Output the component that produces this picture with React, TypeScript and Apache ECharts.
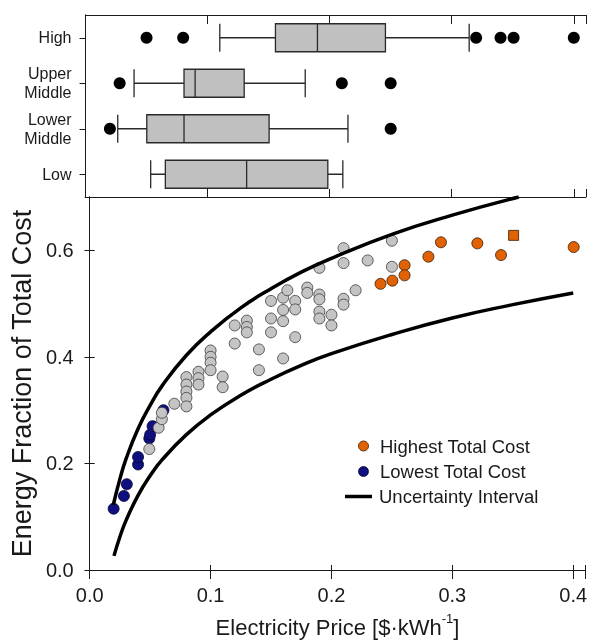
import React, { useEffect, useRef } from "react";
import * as echarts from "echarts";

const FONT = "Liberation Sans, Arial, Helvetica, sans-serif";
const INK = "#1a1a1a";

// Top panel: box plots by income category
const categories = ["Low", "Lower\nMiddle", "Upper\nMiddle", "High"];
// [min whisker, Q1, median, Q3, max whisker]
const boxLow = [0.0534, 0.0654, 0.132, 0.1985, 0.2108];
const boxLowerMiddle = [0.0264, 0.0502, 0.0807, 0.1504, 0.215];
const boxUpperMiddle = [0.0398, 0.0807, 0.0898, 0.13, 0.18];
const boxHigh = [0.11, 0.1556, 0.19, 0.2457, 0.3143];
const outliersLowerMiddle = [0.02, 0.25];
const outliersUpperMiddle = [0.028, 0.21, 0.25];
const outliersHigh = [0.05, 0.08, 0.32, 0.34, 0.3507, 0.4];

// Bottom panel: energy fraction vs. electricity price
const grayX = [0.0493, 0.057, 0.0597, 0.0597, 0.07, 0.08, 0.08, 0.08, 0.08, 0.08, 0.09, 0.09, 0.09, 0.1, 0.1, 0.1, 0.1, 0.11, 0.11, 0.12, 0.12, 0.13, 0.13, 0.13, 0.14, 0.14, 0.15, 0.15, 0.15, 0.16, 0.16, 0.16, 0.16, 0.1635, 0.17, 0.17, 0.17, 0.18, 0.18, 0.19, 0.19, 0.19, 0.19, 0.19, 0.2, 0.2, 0.21, 0.21, 0.21, 0.21, 0.22, 0.23, 0.25, 0.25];
const grayY = [0.227, 0.267, 0.283, 0.295, 0.312, 0.362, 0.348, 0.335, 0.323, 0.307, 0.372, 0.36, 0.348, 0.412, 0.4, 0.389, 0.375, 0.363, 0.343, 0.459, 0.425, 0.468, 0.456, 0.446, 0.414, 0.375, 0.505, 0.472, 0.446, 0.511, 0.488, 0.467, 0.397, 0.525, 0.505, 0.489, 0.437, 0.53, 0.52, 0.567, 0.517, 0.508, 0.485, 0.472, 0.479, 0.459, 0.604, 0.576, 0.509, 0.498, 0.525, 0.581, 0.618, 0.569];
const blueX = [0.0198, 0.0283, 0.0307, 0.04, 0.04, 0.0493, 0.05, 0.052, 0.061];
const blueY = [0.115, 0.139, 0.161, 0.198, 0.212, 0.247, 0.254, 0.27, 0.3];
const orangeX = [0.2406, 0.2504, 0.2605, 0.2605, 0.2802, 0.2906, 0.3207, 0.3403, 0.3507, 0.4004];
const orangeY = [0.537, 0.543, 0.572, 0.553, 0.588, 0.615, 0.613, 0.591, 0.628, 0.606];
const orangeSymbols = ["circle", "circle", "circle", "circle", "circle", "circle", "circle", "circle", "rect", "circle"];

// Uncertainty interval curves
const upperX = [0.0195, 0.025, 0.03, 0.04, 0.05, 0.06, 0.08, 0.1, 0.125, 0.15, 0.175, 0.2, 0.25, 0.3, 0.355];
const upperY = [0.122, 0.171, 0.208, 0.265, 0.309, 0.346, 0.403, 0.447, 0.492, 0.528, 0.559, 0.585, 0.63, 0.666, 0.7];
const lowerX = [0.0201, 0.025, 0.03, 0.04, 0.05, 0.06, 0.08, 0.1, 0.125, 0.15, 0.175, 0.2, 0.25, 0.3, 0.35, 0.4];
const lowerY = [0.0265, 0.0625, 0.0926, 0.14, 0.177, 0.207, 0.254, 0.291, 0.328, 0.358, 0.384, 0.406, 0.442, 0.473, 0.498, 0.52];

const legendLabels = ["Highest Total Cost", "Lowest Total Cost", "Uncertainty Interval"];

const ORANGE = "#e06205";
const NAVY = "#0f0f80";
const GRAY = "#c4c4c4";

const zip = (xs: number[], ys: number[]) => xs.map((x, i) => [x, ys[i]]);

export default function App() {
  const ref = useRef<HTMLDivElement>(null);
  useEffect(() => {
    if (!ref.current) return;
    const chart = echarts.init(ref.current, null, { renderer: "svg" });
    const axisLine = { show: true, lineStyle: { color: INK, width: 1 } };
    const noLabel = { show: false };
    const xBase = { type: "value", min: 0, max: 0.41, interval: 0.1, splitLine: { show: false } };
    const yBase = { type: "value", min: 0, max: 0.7, interval: 0.2, splitLine: { show: false }, gridIndex: 1 };
    const tick = (len: number, inside: boolean) => ({ show: true, length: len, inside, lineStyle: { color: INK, width: 1 } });

    const outlierData: number[][] = [];
    outliersLowerMiddle.forEach((v) => outlierData.push([v, 1]));
    outliersUpperMiddle.forEach((v) => outlierData.push([v, 2]));
    outliersHigh.forEach((v) => outlierData.push([v, 3]));

    chart.setOption({
      animation: false,
      textStyle: { fontFamily: FONT },
      grid: [
        { left: 85.5, right: 4, top: 15, height: 182 },
        { left: 85.5, right: 4, top: 197, height: 379 },
      ],
      xAxis: [
        { ...xBase, gridIndex: 0, position: "bottom", axisLine, axisTick: tick(8, true), axisLabel: noLabel },
        { ...xBase, gridIndex: 0, position: "top", axisLine, axisTick: tick(9, true), axisLabel: noLabel },
        {
          ...xBase, gridIndex: 1, position: "bottom", axisLine, axisTick: tick(5, false),
          axisLabel: { show: true, fontSize: 20, color: INK, margin: 15, showMaxLabel: false, formatter: (v: number) => v.toFixed(1) },
          name: "{a|Electricity Price [$·kWh}{s|-1}{a|]}",
          nameLocation: "middle",
          nameGap: 42,
          nameTextStyle: {
            rich: {
              a: { fontSize: 22, fontFamily: FONT, color: INK, lineHeight: 26, verticalAlign: "bottom" },
              s: { fontSize: 13, fontFamily: FONT, color: INK, lineHeight: 16, verticalAlign: "top" },
            },
          },
        },
        { ...xBase, gridIndex: 1, position: "bottom", axisLine: { show: false }, axisTick: tick(5, true), axisLabel: noLabel },
        { ...xBase, gridIndex: 1, position: "top", axisLine, axisTick: tick(9, true), axisLabel: noLabel },
      ],
      yAxis: [
        {
          type: "category", gridIndex: 0, data: categories, position: "left", axisLine,
          axisTick: { show: true, length: 6, inside: false, alignWithLabel: true, lineStyle: { color: INK } },
          axisLabel: { fontSize: 16, lineHeight: 19, color: INK, margin: 14, align: "right" },
        },
        { type: "category", gridIndex: 0, data: categories, position: "right", axisLine, axisTick: { show: false }, axisLabel: noLabel },
        {
          ...yBase, position: "left", axisLine, axisTick: tick(5, false),
          axisLabel: { show: true, fontSize: 20, color: INK, margin: 16, showMaxLabel: false, formatter: (v: number) => v.toFixed(1) },
          name: "Energy Fraction of Total Cost",
          nameLocation: "middle",
          nameGap: 51,
          nameTextStyle: { fontSize: 27, color: INK, fontFamily: FONT },
        },
        { ...yBase, position: "left", axisLine: { show: false }, axisTick: tick(5, true), axisLabel: noLabel },
        { ...yBase, position: "right", axisLine, axisTick: tick(5, true), axisLabel: noLabel },
      ],
      series: [
        {
          type: "boxplot",
          xAxisIndex: 0,
          yAxisIndex: 0,
          boxWidth: [28, 28],
          itemStyle: { color: "#c0c0c0", borderColor: "#2a2a2a", borderWidth: 1.3 },
          data: [boxLow, boxLowerMiddle, boxUpperMiddle, boxHigh],
        },
        {
          type: "scatter",
          xAxisIndex: 0,
          yAxisIndex: 0,
          symbolSize: 12,
          itemStyle: { color: "#000", opacity: 1 },
          data: outlierData,
        },
        {
          type: "scatter",
          xAxisIndex: 2,
          yAxisIndex: 2,
          symbolSize: 11,
          itemStyle: { color: NAVY, borderColor: "#050530", borderWidth: 0.8, opacity: 1 },
          data: zip(blueX, blueY),
          z: 3,
        },
        {
          type: "scatter",
          xAxisIndex: 2,
          yAxisIndex: 2,
          symbolSize: 11,
          itemStyle: { color: GRAY, borderColor: "#3a3a3a", borderWidth: 0.8, opacity: 1 },
          data: zip(grayX, grayY),
          z: 4,
        },
        {
          type: "scatter",
          xAxisIndex: 2,
          yAxisIndex: 2,
          symbolSize: 11,
          itemStyle: { color: ORANGE, borderColor: "#3a1a00", borderWidth: 0.8, opacity: 1 },
          data: orangeX.map((x, i) => ({ value: [x, orangeY[i]], symbol: orangeSymbols[i], symbolSize: orangeSymbols[i] === "rect" ? 10 : 11 })),
          z: 5,
        },
        {
          type: "line",
          xAxisIndex: 2,
          yAxisIndex: 2,
          smooth: true,
          showSymbol: false,
          symbol: "none",
          lineStyle: { color: "#000", width: 3.5 },
          data: zip(upperX, upperY),
          z: 6,
        },
        {
          type: "line",
          xAxisIndex: 2,
          yAxisIndex: 2,
          smooth: true,
          showSymbol: false,
          symbol: "none",
          lineStyle: { color: "#000", width: 3.5 },
          data: zip(lowerX, lowerY),
          z: 6,
        },
      ],
      graphic: [
        { type: "circle", shape: { cx: 363.5, cy: 446, r: 5 }, style: { fill: ORANGE, stroke: "#3a1a00", lineWidth: 0.8 }, z: 10 },
        { type: "text", x: 380, y: 446, style: { text: legendLabels[0], fontSize: 18.5, fontFamily: FONT, fill: INK, verticalAlign: "middle" }, z: 10 },
        { type: "circle", shape: { cx: 363.5, cy: 471.5, r: 5 }, style: { fill: NAVY, stroke: "#050530", lineWidth: 0.8 }, z: 10 },
        { type: "text", x: 380, y: 471.5, style: { text: legendLabels[1], fontSize: 18.5, fontFamily: FONT, fill: INK, verticalAlign: "middle" }, z: 10 },
        { type: "line", shape: { x1: 345, y1: 496.5, x2: 372, y2: 496.5 }, style: { stroke: "#000", lineWidth: 3.5 }, z: 10 },
        { type: "text", x: 379, y: 496.5, style: { text: legendLabels[2], fontSize: 18.5, fontFamily: FONT, fill: INK, verticalAlign: "middle" }, z: 10 },
      ],
    });
    return () => chart.dispose();
  }, []);
  return <div ref={ref} style={{ position: "fixed", left: 0, top: 0, width: 590, height: 643 }} />;
}
